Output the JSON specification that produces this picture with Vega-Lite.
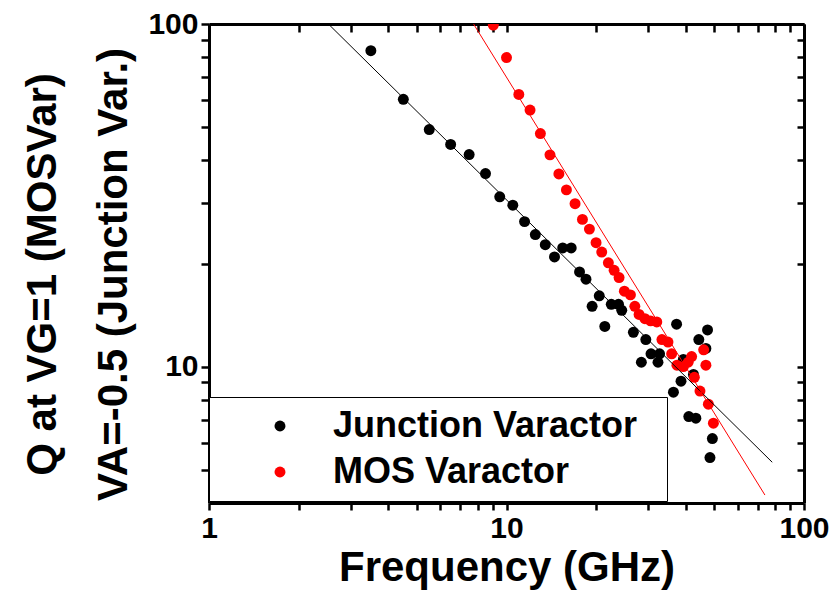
{
  "$schema": "https://vega.github.io/schema/vega-lite/v6.json",
  "width": 595,
  "height": 479,
  "autosize": "none",
  "padding": {"left": 209, "top": 24, "right": 32, "bottom": 93},
  "background": "white",
  "config": {
    "view": {"stroke": null},
    "font": "Liberation Sans",
    "axis": {
      "domainColor": "black",
      "domainWidth": 3,
      "tickColor": "black",
      "tickWidth": 2.5,
      "grid": false,
      "labelFont": "Liberation Sans",
      "labelFontSize": 30,
      "labelFontWeight": "bold",
      "labelColor": "black",
      "labelOverlap": false,
      "labelFlush": false,
      "titleFont": "Liberation Sans",
      "titleFontSize": 42,
      "titleFontWeight": "bold",
      "titleColor": "black"
    }
  },
  "datasets": {
    "points": [
      {"series": "Junction Varactor", "freq": 3.50, "q": 83.6},
      {"series": "Junction Varactor", "freq": 4.50, "q": 60.3},
      {"series": "Junction Varactor", "freq": 5.50, "q": 49.2},
      {"series": "Junction Varactor", "freq": 6.49, "q": 44.5},
      {"series": "Junction Varactor", "freq": 7.49, "q": 41.6},
      {"series": "Junction Varactor", "freq": 8.50, "q": 36.6},
      {"series": "Junction Varactor", "freq": 9.49, "q": 31.3},
      {"series": "Junction Varactor", "freq": 10.5, "q": 29.6},
      {"series": "Junction Varactor", "freq": 11.5, "q": 26.5},
      {"series": "Junction Varactor", "freq": 12.5, "q": 24.3},
      {"series": "Junction Varactor", "freq": 13.5, "q": 22.7},
      {"series": "Junction Varactor", "freq": 14.5, "q": 20.9},
      {"series": "Junction Varactor", "freq": 15.45, "q": 22.2},
      {"series": "Junction Varactor", "freq": 16.5, "q": 22.2},
      {"series": "Junction Varactor", "freq": 17.6, "q": 18.9},
      {"series": "Junction Varactor", "freq": 18.5, "q": 18.0},
      {"series": "Junction Varactor", "freq": 20.5, "q": 16.1},
      {"series": "Junction Varactor", "freq": 19.4, "q": 15.0},
      {"series": "Junction Varactor", "freq": 22.5, "q": 15.2},
      {"series": "Junction Varactor", "freq": 23.8, "q": 15.2},
      {"series": "Junction Varactor", "freq": 24.4, "q": 14.6},
      {"series": "Junction Varactor", "freq": 21.4, "q": 13.1},
      {"series": "Junction Varactor", "freq": 26.7, "q": 12.6},
      {"series": "Junction Varactor", "freq": 29.4, "q": 12.0},
      {"series": "Junction Varactor", "freq": 30.6, "q": 10.9},
      {"series": "Junction Varactor", "freq": 32.7, "q": 10.9},
      {"series": "Junction Varactor", "freq": 28.4, "q": 10.3},
      {"series": "Junction Varactor", "freq": 32.3, "q": 10.3},
      {"series": "Junction Varactor", "freq": 37.3, "q": 13.3},
      {"series": "Junction Varactor", "freq": 47.4, "q": 12.8},
      {"series": "Junction Varactor", "freq": 44.3, "q": 12.0},
      {"series": "Junction Varactor", "freq": 46.8, "q": 11.3},
      {"series": "Junction Varactor", "freq": 38.6, "q": 9.07},
      {"series": "Junction Varactor", "freq": 36.4, "q": 8.42},
      {"series": "Junction Varactor", "freq": 42.5, "q": 9.49},
      {"series": "Junction Varactor", "freq": 39.3, "q": 10.5},
      {"series": "Junction Varactor", "freq": 41.0, "q": 7.15},
      {"series": "Junction Varactor", "freq": 43.3, "q": 7.07},
      {"series": "Junction Varactor", "freq": 49.2, "q": 6.17},
      {"series": "Junction Varactor", "freq": 48.3, "q": 5.43},
      {"series": "MOS Varactor", "freq": 9.03, "q": 99.3},
      {"series": "MOS Varactor", "freq": 10.0, "q": 79.8},
      {"series": "MOS Varactor", "freq": 11.0, "q": 62.3},
      {"series": "MOS Varactor", "freq": 12.0, "q": 56.1},
      {"series": "MOS Varactor", "freq": 13.0, "q": 47.9},
      {"series": "MOS Varactor", "freq": 14.0, "q": 41.5},
      {"series": "MOS Varactor", "freq": 15.0, "q": 36.5},
      {"series": "MOS Varactor", "freq": 15.9, "q": 32.8},
      {"series": "MOS Varactor", "freq": 17.0, "q": 29.9},
      {"series": "MOS Varactor", "freq": 18.0, "q": 26.9},
      {"series": "MOS Varactor", "freq": 19.0, "q": 25.2},
      {"series": "MOS Varactor", "freq": 20.0, "q": 23.0},
      {"series": "MOS Varactor", "freq": 20.9, "q": 21.6},
      {"series": "MOS Varactor", "freq": 22.0, "q": 20.1},
      {"series": "MOS Varactor", "freq": 23.0, "q": 19.1},
      {"series": "MOS Varactor", "freq": 23.9, "q": 18.2},
      {"series": "MOS Varactor", "freq": 24.9, "q": 16.6},
      {"series": "MOS Varactor", "freq": 26.1, "q": 16.2},
      {"series": "MOS Varactor", "freq": 27.0, "q": 15.0},
      {"series": "MOS Varactor", "freq": 27.9, "q": 14.2},
      {"series": "MOS Varactor", "freq": 29.2, "q": 13.8},
      {"series": "MOS Varactor", "freq": 30.5, "q": 13.6},
      {"series": "MOS Varactor", "freq": 32.0, "q": 13.5},
      {"series": "MOS Varactor", "freq": 33.3, "q": 12.0},
      {"series": "MOS Varactor", "freq": 34.9, "q": 11.8},
      {"series": "MOS Varactor", "freq": 35.9, "q": 10.9},
      {"series": "MOS Varactor", "freq": 37.4, "q": 10.1},
      {"series": "MOS Varactor", "freq": 39.3, "q": 10.0},
      {"series": "MOS Varactor", "freq": 40.8, "q": 10.3},
      {"series": "MOS Varactor", "freq": 41.9, "q": 10.7},
      {"series": "MOS Varactor", "freq": 46.0, "q": 11.2},
      {"series": "MOS Varactor", "freq": 46.8, "q": 10.1},
      {"series": "MOS Varactor", "freq": 42.8, "q": 9.31},
      {"series": "MOS Varactor", "freq": 44.7, "q": 8.49},
      {"series": "MOS Varactor", "freq": 47.7, "q": 7.77},
      {"series": "MOS Varactor", "freq": 49.6, "q": 6.84}
    ],
    "fits": [
      {"series": "Junction Varactor", "freq": 2.52, "q": 100},
      {"series": "Junction Varactor", "freq": 78.2, "q": 5.26},
      {"series": "MOS Varactor", "freq": 7.75, "q": 100},
      {"series": "MOS Varactor", "freq": 73.9, "q": 4.22}
    ]
  },
  "layer": [
    {
      "data": {"name": "points"},
      "mark": {"type": "point", "shape": "circle", "filled": true, "size": 120, "opacity": 1, "clip": true},
      "encoding": {
        "x": {
          "field": "freq", "type": "quantitative",
          "scale": {"type": "log", "domain": [1, 100], "nice": false},
          "axis": {
            "orient": "bottom",
            "title": "Frequency (GHz)",
            "values": [1, 2, 3, 4, 5, 6, 7, 8, 9, 10, 20, 30, 40, 50, 60, 70, 80, 90, 100],
            "labelExpr": "(datum.value == 1 || datum.value == 10 || datum.value == 100) ? '' + datum.value : ''",
            "tickSize": 7,
            "labelPadding": 3,
            "titlePadding": 4
          }
        },
        "y": {
          "field": "q", "type": "quantitative",
          "scale": {"type": "log", "domain": [4, 100], "nice": false},
          "axis": {
            "orient": "left",
            "title": ["Q at VG=1 (MOSVar)", "VA=-0.5 (Junction Var.)"],
            "values": [5, 6, 7, 8, 9, 10, 20, 30, 40, 50, 60, 70, 80, 90, 100],
            "labelExpr": "(datum.value == 10 || datum.value == 100) ? '' + datum.value : ''",
            "tickSize": 8,
            "labelPadding": 3,
            "titlePadding": 12,
            "titleLineHeight": 71,
            "titleY": 250
          }
        },
        "color": {
          "field": "series", "type": "nominal",
          "scale": {"domain": ["Junction Varactor", "MOS Varactor"], "range": ["#000000", "#ff0000"]},
          "legend": {
            "orient": "none",
            "legendX": 0,
            "legendY": 373,
            "title": "xx",
            "titleOrient": "right",
            "titleOpacity": 0,
            "titleFontSize": 12,
            "titlePadding": 5,
            "strokeColor": "black",
            "fillColor": "white",
            "padding": 11,
            "symbolType": "circle",
            "symbolSize": 120,
            "symbolOffset": 42,
            "labelOffset": 35,
            "labelFont": "Liberation Sans",
            "labelFontSize": 36,
            "labelFontWeight": "bold",
            "labelColor": "black",
            "labelLimit": 500,
            "rowPadding": 10
          }
        }
      }
    },
    {
      "data": {"name": "fits"},
      "encoding": {
        "x": {
          "field": "freq", "type": "quantitative",
          "scale": {"type": "log", "domain": [1, 100], "nice": false},
          "axis": {
            "orient": "top",
            "title": null,
            "labels": false,
            "values": [1, 2, 3, 4, 5, 6, 7, 8, 9, 10, 20, 30, 40, 50, 60, 70, 80, 90, 100],
            "tickSize": -8
          }
        },
        "y": {
          "field": "q", "type": "quantitative",
          "scale": {"type": "log", "domain": [4, 100], "nice": false},
          "axis": {
            "orient": "right",
            "title": null,
            "labels": false,
            "values": [5, 6, 7, 8, 9, 10, 20, 30, 40, 50, 60, 70, 80, 90, 100],
            "tickSize": -7
          }
        }
      },
      "layer": [
        {
          "transform": [{"filter": "datum.series == 'Junction Varactor'"}],
          "mark": {"type": "line", "color": "#000000", "strokeWidth": 1, "clip": true}
        },
        {
          "transform": [{"filter": "datum.series == 'MOS Varactor'"}],
          "mark": {"type": "line", "color": "#ff0000", "strokeWidth": 1, "clip": true}
        }
      ]
    }
  ],
  "resolve": {"axis": {"x": "independent", "y": "independent"}}
}
